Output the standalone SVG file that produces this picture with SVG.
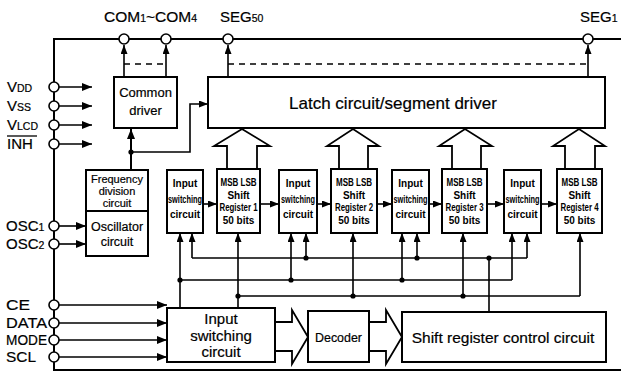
<svg xmlns="http://www.w3.org/2000/svg" width="621" height="374" viewBox="0 0 621 374">
<defs>
<style>
.ln{stroke:#000;stroke-width:2;fill:none}
.thin{stroke:#000;stroke-width:1.6;fill:none}
.dash{stroke:#000;stroke-width:1.6;fill:none;stroke-dasharray:6 5}
.box{stroke:#000;stroke-width:2;fill:#fff}
.pin{stroke:#000;stroke-width:1.6;fill:#fff}
.hol{stroke:#000;stroke-width:1.8;fill:#fff;stroke-linejoin:miter}
.dot{fill:#000}
text{font-family:"Liberation Sans",Arial,sans-serif;fill:#000;stroke:#000;stroke-width:0.2}
.lbl{font-size:15px}
.sub{font-size:10.5px}
.mid{text-anchor:middle}
.sm{font-size:10px;text-anchor:middle;font-weight:bold;stroke-width:0}
</style>
<marker id="ah" viewBox="0 0 10 8" refX="10" refY="4" markerWidth="10" markerHeight="8" markerUnits="userSpaceOnUse" orient="auto">
<path d="M0,0 L10,4 L0,8 z" fill="#000"/>
</marker>
<marker id="as" viewBox="0 0 9 7" refX="9" refY="3.5" markerWidth="9" markerHeight="7" markerUnits="userSpaceOnUse" orient="auto">
<path d="M0,0 L9,3.5 L0,7 z" fill="#000"/>
</marker>
</defs>
<rect width="621" height="374" fill="#fff"/>

<!-- frame -->
<g id="frame">
<path class="ln" d="M621,39 H54 V370 H621"/>
</g>

<!-- connectors -->
<g id="connectors">
<line class="thin" x1="59" y1="87" x2="92" y2="87" marker-end="url(#ah)"/>
<line class="thin" x1="59" y1="106" x2="92" y2="106" marker-end="url(#ah)"/>
<line class="thin" x1="59" y1="125" x2="92" y2="125" marker-end="url(#ah)"/>
<line class="thin" x1="59" y1="144" x2="92" y2="144" marker-end="url(#ah)"/>
<line class="thin" x1="59" y1="226" x2="86" y2="226" marker-end="url(#ah)"/>
<line class="thin" x1="59" y1="244" x2="86" y2="244" marker-end="url(#ah)"/>
<line class="thin" x1="59" y1="305" x2="167" y2="305" marker-end="url(#ah)"/>
<line class="thin" x1="59" y1="323" x2="167" y2="323" marker-end="url(#ah)"/>
<line class="thin" x1="59" y1="340" x2="167" y2="340" marker-end="url(#ah)"/>
<line class="thin" x1="59" y1="357" x2="167" y2="357" marker-end="url(#ah)"/>
<line class="thin" x1="124" y1="77" x2="124" y2="45" marker-end="url(#as)"/>
<line class="thin" x1="166" y1="77" x2="166" y2="45" marker-end="url(#as)"/>
<line class="thin" x1="228" y1="77" x2="228" y2="45" marker-end="url(#as)"/>
<line class="thin" x1="588" y1="77" x2="588" y2="45" marker-end="url(#as)"/>
<line class="dash" x1="124" y1="64" x2="166" y2="64"/>
<line class="dash" x1="228" y1="64" x2="588" y2="64"/>
<line class="ln" x1="131" y1="170" x2="131" y2="129" marker-end="url(#ah)"/>
<path class="thin" d="M131,152 H190 V104 H208" marker-end="url(#as)"/>
<circle class="dot" cx="131" cy="152" r="2.6"/>
<line class="thin" x1="203" y1="204" x2="217" y2="204" marker-end="url(#as)"/>
<line class="thin" x1="260" y1="204" x2="279" y2="204" marker-end="url(#as)"/>
<line class="thin" x1="317" y1="204" x2="331" y2="204" marker-end="url(#as)"/>
<line class="thin" x1="377" y1="204" x2="392" y2="204" marker-end="url(#as)"/>
<line class="thin" x1="429" y1="204" x2="442" y2="204" marker-end="url(#as)"/>
<line class="thin" x1="487" y1="204" x2="504" y2="204" marker-end="url(#as)"/>
<line class="thin" x1="541" y1="204" x2="557" y2="204" marker-end="url(#as)"/>
<line class="thin" x1="192" y1="258" x2="527" y2="258"/>
<line class="thin" x1="192" y1="258" x2="192" y2="233" marker-end="url(#as)"/>
<line class="thin" x1="306" y1="258" x2="306" y2="233" marker-end="url(#as)"/>
<line class="thin" x1="417" y1="258" x2="417" y2="233" marker-end="url(#as)"/>
<line class="thin" x1="527" y1="258" x2="527" y2="233" marker-end="url(#as)"/>
<line class="thin" x1="489" y1="258" x2="489" y2="312"/>
<circle class="dot" cx="306" cy="258" r="2.6"/>
<circle class="dot" cx="417" cy="258" r="2.6"/>
<circle class="dot" cx="489" cy="258" r="2.6"/>
<line class="thin" x1="180" y1="280" x2="512" y2="280"/>
<line class="thin" x1="180" y1="308" x2="180" y2="233" marker-end="url(#as)"/>
<line class="thin" x1="291" y1="280" x2="291" y2="233" marker-end="url(#as)"/>
<line class="thin" x1="402" y1="280" x2="402" y2="233" marker-end="url(#as)"/>
<line class="thin" x1="512" y1="280" x2="512" y2="233" marker-end="url(#as)"/>
<circle class="dot" cx="180" cy="280" r="2.6"/>
<circle class="dot" cx="291" cy="280" r="2.6"/>
<circle class="dot" cx="402" cy="280" r="2.6"/>
<line class="thin" x1="238" y1="296" x2="580" y2="296"/>
<line class="thin" x1="238" y1="308" x2="238" y2="233" marker-end="url(#as)"/>
<line class="thin" x1="353" y1="296" x2="353" y2="233" marker-end="url(#as)"/>
<line class="thin" x1="463" y1="296" x2="463" y2="233" marker-end="url(#as)"/>
<line class="thin" x1="580" y1="296" x2="580" y2="233" marker-end="url(#as)"/>
<circle class="dot" cx="238" cy="296" r="2.6"/>
<circle class="dot" cx="353" cy="296" r="2.6"/>
<circle class="dot" cx="463" cy="296" r="2.6"/>
<path class="hol" d="M227,169 V146 H214 L242,129 L270,146 H257 V169"/>
<path class="hol" d="M339,169 V146 H327 L353,129 L379,146 H368 V169"/>
<path class="hol" d="M452,169 V146 H439 L465,129 L492,146 H481 V169"/>
<path class="hol" d="M565,169 V146 H553 L579,129 L605,146 H595 V169"/>
<path class="hol" d="M275,322 H292 V310 L308,337 L292,364 V351 H275"/>
<path class="hol" d="M369,322 H386 V310 L402,337 L386,364 V351 H369"/>
</g>

<!-- pins -->
<g id="pins">
<circle class="pin" cx="124" cy="39" r="5"/>
<circle class="pin" cx="166" cy="39" r="5"/>
<circle class="pin" cx="228" cy="39" r="5"/>
<circle class="pin" cx="588" cy="39" r="5"/>
<circle class="pin" cx="54" cy="87" r="5"/>
<circle class="pin" cx="54" cy="106" r="5"/>
<circle class="pin" cx="54" cy="125" r="5"/>
<circle class="pin" cx="54" cy="144" r="5"/>
<circle class="pin" cx="54" cy="226" r="5"/>
<circle class="pin" cx="54" cy="244" r="5"/>
<circle class="pin" cx="54" cy="305" r="5"/>
<circle class="pin" cx="54" cy="323" r="5"/>
<circle class="pin" cx="54" cy="340" r="5"/>
<circle class="pin" cx="54" cy="357" r="5"/>
<text class="lbl" x="104" y="22" style="font-size:15.5px">COM<tspan class="sub">1</tspan>~COM<tspan class="sub">4</tspan></text>
<text class="lbl" x="220" y="22">SEG<tspan class="sub">50</tspan></text>
<text class="lbl" x="580" y="22">SEG<tspan class="sub">1</tspan></text>
<text class="lbl" x="7" y="92">V<tspan class="sub">DD</tspan></text>
<text class="lbl" x="7" y="111">V<tspan class="sub">SS</tspan></text>
<text class="lbl" x="7" y="130">V<tspan class="sub">LCD</tspan></text>
<text class="lbl" x="7" y="149">INH</text>
<line x1="7" y1="136" x2="37" y2="136" stroke="#000" stroke-width="1.3"/>
<text class="lbl" x="6" y="231">OSC<tspan class="sub">1</tspan></text>
<text class="lbl" x="6" y="249">OSC<tspan class="sub">2</tspan></text>
<text class="lbl" x="6" y="310" textLength="24" lengthAdjust="spacingAndGlyphs">CE</text>
<text class="lbl" x="6" y="328" textLength="41" lengthAdjust="spacingAndGlyphs">DATA</text>
<text class="lbl" x="6" y="345" textLength="41" lengthAdjust="spacingAndGlyphs">MODE</text>
<text class="lbl" x="6" y="362" textLength="30" lengthAdjust="spacingAndGlyphs">SCL</text>
</g>

<g id="common-driver">
<rect class="box" x="114" y="77" width="63" height="51"/>
<text class="mid" x="145.5" y="97" style="font-size:13px">Common</text>
<text class="mid" x="145.5" y="115" style="font-size:13px">driver</text>
</g>

<g id="latch">
<rect class="box" x="208" y="77" width="397" height="51"/>
<text class="mid" x="393" y="109" style="font-size:17px">Latch circuit/segment driver</text>
</g>

<g id="freq-div">
<rect class="box" x="86" y="170" width="62" height="41"/>
<text class="mid" x="117" y="183" style="font-size:11px">Frequency</text>
<text class="mid" x="117" y="195" style="font-size:11px">division</text>
<text class="mid" x="117" y="207" style="font-size:11px">circuit</text>
</g>

<g id="oscillator">
<rect class="box" x="86" y="211" width="62" height="45"/>
<text class="mid" x="117" y="231" style="font-size:12.5px">Oscillator</text>
<text class="mid" x="117" y="246" style="font-size:12.5px">circuit</text>
</g>

<g id="is1">
<rect class="box" x="167" y="170" width="36" height="63"/>
<text class="sm" x="185" y="187">Input</text>
<text class="sm" x="185" y="203" textLength="34" lengthAdjust="spacingAndGlyphs">switching</text>
<text class="sm" x="185" y="218">circuit</text>
</g>
<g id="sr1">
<rect class="box" x="217" y="169" width="43" height="64"/>
<text class="sm" x="238.5" y="186" textLength="36" lengthAdjust="spacingAndGlyphs">MSB LSB</text>
<text class="sm" x="238.5" y="199">Shift</text>
<text class="sm" x="238.5" y="211" textLength="38" lengthAdjust="spacingAndGlyphs">Register 1</text>
<text class="sm" x="238.5" y="224">50 bits</text>
</g>
<g id="is2">
<rect class="box" x="279" y="170" width="38" height="63"/>
<text class="sm" x="298" y="187">Input</text>
<text class="sm" x="298" y="203" textLength="34" lengthAdjust="spacingAndGlyphs">switching</text>
<text class="sm" x="298" y="218">circuit</text>
</g>
<g id="sr2">
<rect class="box" x="331" y="169" width="46" height="64"/>
<text class="sm" x="354" y="186" textLength="36" lengthAdjust="spacingAndGlyphs">MSB LSB</text>
<text class="sm" x="354" y="199">Shift</text>
<text class="sm" x="354" y="211" textLength="38" lengthAdjust="spacingAndGlyphs">Register 2</text>
<text class="sm" x="354" y="224">50 bits</text>
</g>
<g id="is3">
<rect class="box" x="392" y="170" width="37" height="63"/>
<text class="sm" x="410.5" y="187">Input</text>
<text class="sm" x="410.5" y="203" textLength="34" lengthAdjust="spacingAndGlyphs">switching</text>
<text class="sm" x="410.5" y="218">circuit</text>
</g>
<g id="sr3">
<rect class="box" x="442" y="169" width="45" height="64"/>
<text class="sm" x="464.5" y="186" textLength="36" lengthAdjust="spacingAndGlyphs">MSB LSB</text>
<text class="sm" x="464.5" y="199">Shift</text>
<text class="sm" x="464.5" y="211" textLength="38" lengthAdjust="spacingAndGlyphs">Register 3</text>
<text class="sm" x="464.5" y="224">50 bits</text>
</g>
<g id="is4">
<rect class="box" x="504" y="170" width="37" height="63"/>
<text class="sm" x="522.5" y="187">Input</text>
<text class="sm" x="522.5" y="203" textLength="34" lengthAdjust="spacingAndGlyphs">switching</text>
<text class="sm" x="522.5" y="218">circuit</text>
</g>
<g id="sr4">
<rect class="box" x="557" y="169" width="45" height="64"/>
<text class="sm" x="579.5" y="186" textLength="36" lengthAdjust="spacingAndGlyphs">MSB LSB</text>
<text class="sm" x="579.5" y="199">Shift</text>
<text class="sm" x="579.5" y="211" textLength="38" lengthAdjust="spacingAndGlyphs">Register 4</text>
<text class="sm" x="579.5" y="224">50 bits</text>
</g>

<g id="input-switching">
<rect class="box" x="167" y="308" width="108" height="54"/>
<text class="mid" x="221" y="324" style="font-size:15px">Input</text>
<text class="mid" x="221" y="341" style="font-size:15px">switching</text>
<text class="mid" x="221" y="357" style="font-size:15px">circuit</text>
</g>

<g id="decoder">
<rect class="box" x="308" y="311" width="61" height="51"/>
<text class="mid" x="338.5" y="342" style="font-size:13px" textLength="47" lengthAdjust="spacingAndGlyphs">Decoder</text>
</g>

<g id="sr-control">
<rect class="box" x="402" y="312" width="204" height="50"/>
<text class="mid" x="503" y="343" style="font-size:15.5px">Shift register control circuit</text>
</g>
</svg>
